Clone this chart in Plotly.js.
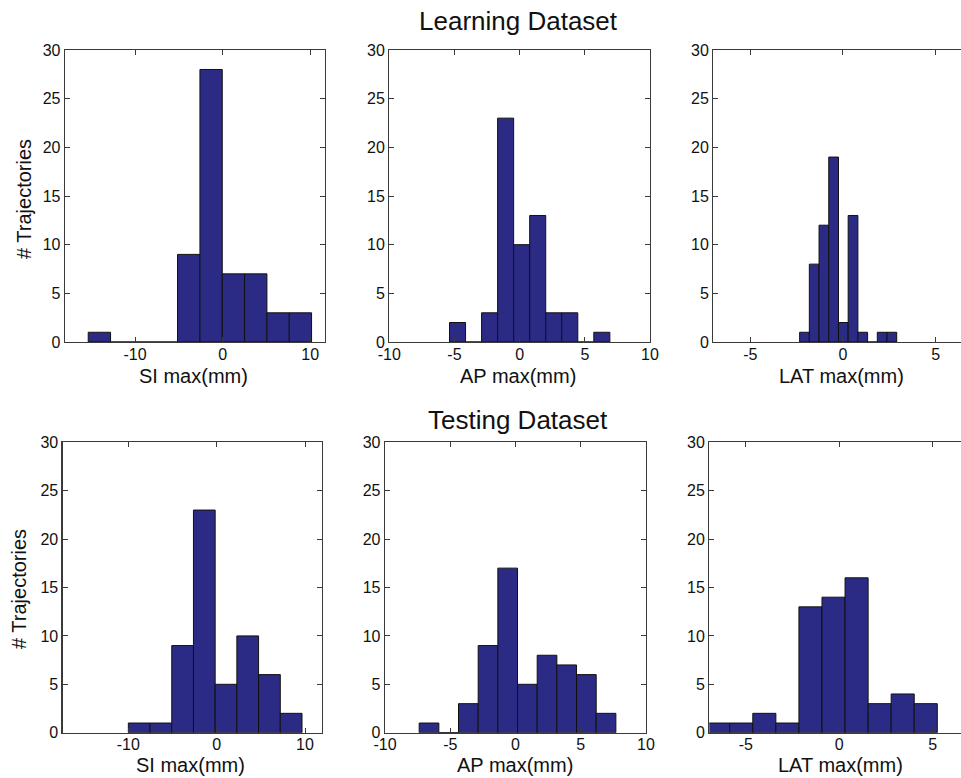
<!DOCTYPE html>
<html>
<head>
<meta charset="utf-8">
<script src="https://cdn.plot.ly/plotly-3.0.1.min.js"></script>
<style>html,body{margin:0;padding:0;background:#fff;}#chart{width:961px;height:778px;}</style>
</head>
<body>
<div id="chart"></div>
<script>
// ---- Data ----
// Learning dataset
const learnSICenters  = [-14.07, -11.52, -8.97, -6.42, -3.87, -1.31, 1.24, 3.79, 6.34, 8.89];
const learnSICounts   = [1, 0, 0, 0, 9, 28, 7, 7, 3, 3];
const learnSIWidth    = 2.552;

const learnAPCenters  = [-4.765, -3.535, -2.305, -1.075, 0.155, 1.385, 2.615, 3.845, 5.075, 6.305];
const learnAPCounts   = [2, 0, 3, 23, 10, 13, 3, 3, 0, 1];
const learnAPWidth    = 1.23;

const learnLATCenters = [-2.078, -1.554, -1.03, -0.506, 0.018, 0.542, 1.066, 1.59, 2.114, 2.638];
const learnLATCounts  = [1, 8, 12, 19, 2, 13, 1, 0, 1, 1];
const learnLATWidth   = 0.524;

// Testing dataset
const testSICenters   = [-8.771, -6.314, -3.856, -1.399, 1.059, 3.516, 5.974, 8.431];
const testSICounts    = [1, 1, 9, 23, 5, 10, 6, 2];
const testSIWidth     = 2.4575;

const testAPCenters   = [-6.627, -5.120, -3.613, -2.106, -0.599, 0.909, 2.416, 3.923, 5.430, 6.937];
const testAPCounts    = [1, 0, 3, 9, 17, 5, 8, 7, 6, 2];
const testAPWidth     = 1.507;

const testLATCenters  = [-6.4825, -5.2475, -4.0125, -2.7775, -1.5425, -0.3075, 0.9275, 2.1625, 3.3975, 4.6325];
const testLATCounts   = [1, 1, 2, 1, 13, 14, 16, 3, 4, 3];
const testLATWidth    = 1.235;

// Tick labels
const yTicks      = [0, 5, 10, 15, 20, 25, 30];
const siTicks     = [-10, 0, 10];
const siTickText  = ["-10", "0", "10"];
const apTicks     = [-10, -5, 0, 5, 10];
const apTickText  = ["-10", "-5", "0", "5", "10"];
const latTicks    = [-5, 0, 5];
const latTickText = ["-5", "0", "5"];

const rowTitles   = ["Learning Dataset", "Testing Dataset"];
const xTitles     = ["SI max(mm)", "AP max(mm)", "LAT max(mm)"];
const yTitle      = "# Trajectories";

// ---- Styling ----
const W = 961, H = 778;
const FONT = "Liberation Sans, Arial, Helvetica, sans-serif";
const barColor = "#2b2b85";
const axisColor = "#3a3a3a";

function bar(x, y, w, ax) {
  return {
    type: "bar", x: x, y: y, width: w,
    xaxis: "x" + ax, yaxis: "y" + ax,
    marker: {color: barColor, line: {color: "#111111", width: 1}},
    showlegend: false, hoverinfo: "x+y"
  };
}

const data = [
  bar(learnSICenters, learnSICounts, learnSIWidth, ""),
  bar(learnAPCenters, learnAPCounts, learnAPWidth, "2"),
  bar(learnLATCenters, learnLATCounts, learnLATWidth, "3"),
  bar(testSICenters, testSICounts, testSIWidth, "4"),
  bar(testAPCenters, testAPCounts, testAPWidth, "5"),
  bar(testLATCenters, testLATCounts, testLATWidth, "6")
];

function px(a, b) { return [a / W, b / W]; }
function py(top, bottom) { return [(H - bottom) / H, (H - top) / H]; }

function xa(domain, range, vals, text, anchor) {
  return {
    domain: domain, range: range, anchor: anchor,
    tickmode: "array", tickvals: vals, ticktext: text,
    ticks: "inside", ticklen: 5, tickwidth: 1, tickcolor: axisColor,
    showline: true, linecolor: axisColor, linewidth: 1.3,
    mirror: "ticks", showgrid: false, zeroline: false,
    ticklabelstandoff: -3,
    tickfont: {family: FONT, size: 16, color: "#111"},
    fixedrange: true
  };
}
function ya(domain, anchor, mirror) {
  return {
    domain: domain, range: [0, 30], anchor: anchor,
    tickmode: "array", tickvals: yTicks,
    ticks: "inside", ticklen: 5, tickwidth: 1, tickcolor: axisColor,
    showline: true, linecolor: axisColor, linewidth: 1.3,
    mirror: mirror, showgrid: false, zeroline: false,
    tickfont: {family: FONT, size: 16, color: "#111"},
    fixedrange: true
  };
}

const row1 = py(50, 342);
const row2 = py(442.3, 732.7);

const layout = {
  width: W, height: H,
  margin: {l: 0, r: 0, t: 0, b: 0},
  paper_bgcolor: "#ffffff", plot_bgcolor: "#ffffff",
  font: {family: FONT, color: "#111"},
  showlegend: false,
  xaxis:  xa(px(65, 325),      [-18, 11.7],   siTicks,  siTickText,  "y"),
  yaxis:  ya(row1, "x", "ticks"),
  xaxis2: xa(px(389.3, 650),   [-10, 10],     apTicks,  apTickText,  "y2"),
  yaxis2: ya(row1, "x2", "ticks"),
  xaxis3: xa(px(713.3, 961),   [-7, 6.37],    latTicks, latTickText, "y3"),
  yaxis3: ya(row1, "x3", false),
  xaxis4: xa(px(62.7, 321.7),  [-17.43, 11.89], siTicks, siTickText, "y4"),
  yaxis4: ya(row2, "x4", "ticks"),
  xaxis5: xa(px(385, 646),     [-10, 10],     apTicks,  apTickText,  "y5"),
  yaxis5: ya(row2, "x5", "ticks"),
  xaxis6: xa(px(709.3, 961),   [-6.96, 6.52], latTicks, latTickText, "y6"),
  yaxis6: ya(row2, "x6", false),
  annotations: []
};

function ann(text, x, y, size, angle, yanchor) {
  return {
    text: text, xref: "paper", yref: "paper",
    x: x / W, y: 1 - y / H, xanchor: "center", yanchor: yanchor || "middle",
    showarrow: false, textangle: angle || 0,
    font: {family: FONT, size: size, color: "#111"}
  };
}

layout.annotations.push(ann(rowTitles[0], 518.5, 21, 26));
layout.annotations.push(ann(rowTitles[1], 518, 420, 26));
layout.annotations.push(ann(xTitles[0], 193, 376, 20));
layout.annotations.push(ann(xTitles[1], 518, 376, 20));
layout.annotations.push(ann(xTitles[2], 841.7, 376, 20));
layout.annotations.push(ann(xTitles[0], 190, 778, 20, 0, "bottom"));
layout.annotations.push(ann(xTitles[1], 514.5, 778, 20, 0, "bottom"));
layout.annotations.push(ann(xTitles[2], 840.5, 778, 20, 0, "bottom"));
layout.annotations.push(ann(yTitle, 24, 199, 20, -90));
layout.annotations.push(ann(yTitle, 19, 589, 20, -90));

Plotly.newPlot("chart", data, layout, {displayModeBar: false, staticPlot: true});
</script>
</body>
</html>
